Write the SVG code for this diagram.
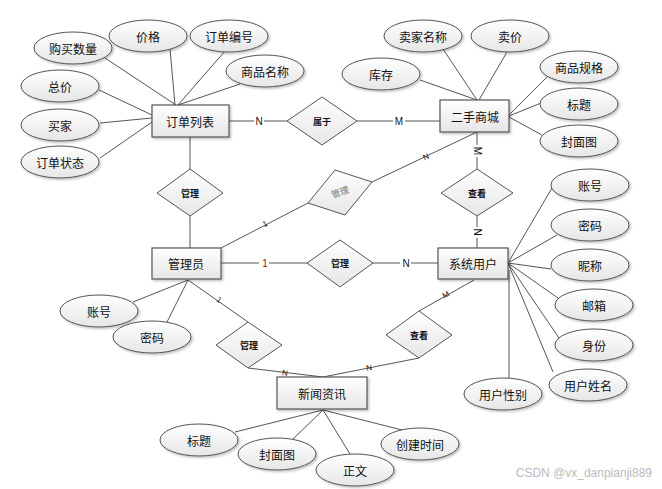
<svg xmlns="http://www.w3.org/2000/svg" width="662" height="489" viewBox="0 0 662 489">
<defs>
<linearGradient id="g" x1="0" y1="0" x2="0" y2="1">
<stop offset="0" stop-color="#ffffff"/>
<stop offset="1" stop-color="#e6e6e6"/>
</linearGradient>
<filter id="sh" x="-10%" y="-10%" width="130%" height="140%">
<feDropShadow dx="1.5" dy="1.5" stdDeviation="0.8" flood-color="#000" flood-opacity="0.25"/>
</filter>
</defs>
<style>
.e{fill:url(#g);stroke:#555;stroke-width:1;filter:url(#sh)}
.r{fill:url(#g);stroke:#555;stroke-width:1.2;filter:url(#sh)}
.d{fill:url(#g);stroke:#555;stroke-width:1}
.t{font-family:"Noto Sans CJK SC","Noto Sans",sans-serif;font-size:12px;fill:#111;text-anchor:middle;dominant-baseline:central}
.dt{font-family:"Noto Sans CJK SC","Noto Sans",sans-serif;font-size:9px;font-weight:bold;fill:#111;text-anchor:middle;dominant-baseline:central}
.l{stroke:#555;stroke-width:1;fill:none}
.lb{font-family:"Liberation Sans",sans-serif;font-size:10px;fill:#111;text-anchor:middle;dominant-baseline:central}
.sl{font-family:"Liberation Sans",sans-serif;font-size:8px;fill:#111;text-anchor:middle;dominant-baseline:central}
</style>
<rect width="662" height="489" fill="#fff"/>
<g id="connectors">
<line class="l" x1="105" y1="58" x2="176" y2="105"/>
<line class="l" x1="170" y1="49" x2="175" y2="105"/>
<line class="l" x1="225" y1="51" x2="178" y2="105"/>
<line class="l" x1="240" y1="84" x2="178" y2="105"/>
<line class="l" x1="99" y1="90" x2="152" y2="115"/>
<line class="l" x1="100" y1="123" x2="152" y2="118"/>
<line class="l" x1="100" y1="158" x2="152" y2="122"/>
<line class="l" x1="443" y1="49" x2="477" y2="100"/>
<line class="l" x1="507" y1="52" x2="479" y2="100"/>
<line class="l" x1="420" y1="80" x2="477" y2="100"/>
<line class="l" x1="547" y1="77" x2="509" y2="115"/>
<line class="l" x1="541" y1="103" x2="509" y2="116"/>
<line class="l" x1="542" y1="135" x2="509" y2="117" stroke="#222"/>
<line class="l" x1="552" y1="188" x2="508" y2="263"/>
<line class="l" x1="557" y1="235" x2="508" y2="263"/>
<line class="l" x1="551" y1="269" x2="508" y2="263"/>
<line class="l" x1="558" y1="298" x2="508" y2="263"/>
<line class="l" x1="559" y1="338" x2="508" y2="263"/>
<line class="l" x1="553" y1="372" x2="508" y2="263"/>
<line class="l" x1="509" y1="270" x2="509" y2="378"/>
<line class="l" x1="133" y1="302" x2="188" y2="280"/>
<line class="l" x1="167" y1="322" x2="188" y2="280"/>
<line class="l" x1="235" y1="432" x2="323" y2="410"/>
<line class="l" x1="293" y1="439" x2="323" y2="410"/>
<line class="l" x1="350" y1="454" x2="323" y2="410"/>
<line class="l" x1="402" y1="430" x2="323" y2="410"/>
<line class="l" x1="229" y1="121" x2="287" y2="121"/>
<line class="l" x1="357" y1="121" x2="440" y2="121"/>
<line class="l" x1="190" y1="137" x2="190" y2="169"/>
<line class="l" x1="190" y1="216" x2="190" y2="248"/>
<line class="l" x1="221" y1="248" x2="308" y2="203"/>
<line class="l" x1="372" y1="182" x2="477" y2="132"/>
<line class="l" x1="477" y1="132" x2="477" y2="169"/>
<line class="l" x1="477" y1="216" x2="477" y2="248"/>
<line class="l" x1="221" y1="263" x2="307" y2="263"/>
<line class="l" x1="373" y1="263" x2="438" y2="263"/>
<line class="l" x1="188" y1="280" x2="248" y2="322"/>
<line class="l" x1="248" y1="368" x2="323" y2="377"/>
<line class="l" x1="474" y1="280" x2="419" y2="311"/>
<line class="l" x1="419" y1="358" x2="323" y2="377"/>
<g>
<rect x="254" y="115" width="10" height="12" fill="#fff"/>
<text class="lb" x="259" y="121">N</text>
<rect x="393" y="115" width="12" height="12" fill="#fff"/>
<text class="lb" x="399" y="121">M</text>
<rect x="259" y="257" width="10" height="12" fill="#fff"/>
<text class="lb" x="265" y="263" fill="#c00000" style="fill:#c00000">1</text>
<rect x="400" y="257" width="11" height="12" fill="#fff"/>
<text class="lb" x="406" y="263">N</text>
<text class="sl" x="265" y="224" transform="rotate(-27 265 224)">1</text>
<text class="sl" x="426" y="157" transform="rotate(-25 426 157)">N</text>
<rect x="471" y="145" width="12" height="12" fill="#fff"/>
<text class="lb" x="477" y="151" transform="rotate(90 477 151)">M</text>
<rect x="471" y="227" width="12" height="11" fill="#fff"/>
<text class="lb" x="477" y="232" transform="rotate(90 477 232)">N</text>
<text class="sl" x="219" y="300" transform="rotate(35 219 300)">1</text>
<text class="sl" x="285" y="373" transform="rotate(7 285 373)">N</text>
<text class="sl" x="446" y="295" transform="rotate(-29 446 295)">M</text>
<text class="sl" x="369" y="368" transform="rotate(-11 369 368)">N</text>
</g>
</g>
<g id="n_dingdan"><rect class="r" x="152" y="105" width="77" height="32"/><text class="t" x="190" y="121">订单列表</text></g>
<g id="n_ershou"><rect class="r" x="440" y="100" width="69" height="32"/><text class="t" x="475" y="116">二手商城</text></g>
<g id="n_admin"><rect class="r" x="152" y="248" width="69" height="31"/><text class="t" x="186" y="263">管理员</text></g>
<g id="n_user"><rect class="r" x="438" y="248" width="70" height="31"/><text class="t" x="473" y="263">系统用户</text></g>
<g id="n_news"><rect class="r" x="277" y="377" width="90" height="32"/><text class="t" x="322" y="393">新闻资讯</text></g>
<g id="a_goumai"><ellipse class="e" cx="73" cy="48" rx="39" ry="16"/><text class="t" x="73" y="48">购买数量</text></g>
<g id="a_jiage"><ellipse class="e" cx="148" cy="36" rx="39" ry="16"/><text class="t" x="148" y="36">价格</text></g>
<g id="a_bianhao"><ellipse class="e" cx="229" cy="36" rx="39" ry="16"/><text class="t" x="229" y="36">订单编号</text></g>
<g id="a_spmc"><ellipse class="e" cx="265" cy="71" rx="39" ry="16"/><text class="t" x="265" y="71">商品名称</text></g>
<g id="a_zongjia"><ellipse class="e" cx="60" cy="86" rx="39" ry="16"/><text class="t" x="60" y="86">总价</text></g>
<g id="a_maijia"><ellipse class="e" cx="60" cy="125" rx="39" ry="16"/><text class="t" x="60" y="125">买家</text></g>
<g id="a_zhuangtai"><ellipse class="e" cx="60" cy="162" rx="39" ry="16"/><text class="t" x="60" y="162">订单状态</text></g>
<g id="a_mjmc"><ellipse class="e" cx="423" cy="36" rx="39" ry="16"/><text class="t" x="423" y="36">卖家名称</text></g>
<g id="a_maijia2"><ellipse class="e" cx="510" cy="36" rx="39" ry="16"/><text class="t" x="510" y="36">卖价</text></g>
<g id="a_kucun"><ellipse class="e" cx="381" cy="74" rx="39" ry="16"/><text class="t" x="381" y="74">库存</text></g>
<g id="a_guige"><ellipse class="e" cx="579" cy="67" rx="39" ry="16"/><text class="t" x="579" y="67">商品规格</text></g>
<g id="a_biaoti"><ellipse class="e" cx="579" cy="104" rx="39" ry="16"/><text class="t" x="579" y="104">标题</text></g>
<g id="a_fengmian"><ellipse class="e" cx="579" cy="141" rx="39" ry="16"/><text class="t" x="579" y="141">封面图</text></g>
<g id="a_u_zh"><ellipse class="e" cx="590" cy="185" rx="39" ry="16"/><text class="t" x="590" y="185">账号</text></g>
<g id="a_u_mm"><ellipse class="e" cx="590" cy="225" rx="39" ry="16"/><text class="t" x="590" y="225">密码</text></g>
<g id="a_u_nc"><ellipse class="e" cx="590" cy="265" rx="39" ry="16"/><text class="t" x="590" y="265">昵称</text></g>
<g id="a_u_yx"><ellipse class="e" cx="594" cy="305" rx="39" ry="16"/><text class="t" x="594" y="305">邮箱</text></g>
<g id="a_u_sf"><ellipse class="e" cx="594" cy="345" rx="39" ry="16"/><text class="t" x="594" y="345">身份</text></g>
<g id="a_u_xm"><ellipse class="e" cx="588" cy="385" rx="39" ry="16"/><text class="t" x="588" y="385">用户姓名</text></g>
<g id="a_u_xb"><ellipse class="e" cx="503" cy="394" rx="39" ry="16"/><text class="t" x="503" y="394">用户性别</text></g>
<g id="a_a_zh"><ellipse class="e" cx="99" cy="311" rx="39" ry="16"/><text class="t" x="99" y="311">账号</text></g>
<g id="a_a_mm"><ellipse class="e" cx="152" cy="337" rx="39" ry="16"/><text class="t" x="152" y="337">密码</text></g>
<g id="a_n_bt"><ellipse class="e" cx="199" cy="440" rx="39" ry="16"/><text class="t" x="199" y="440">标题</text></g>
<g id="a_n_fm"><ellipse class="e" cx="277" cy="454" rx="39" ry="16"/><text class="t" x="277" y="454">封面图</text></g>
<g id="a_n_zw"><ellipse class="e" cx="355" cy="470" rx="39" ry="16"/><text class="t" x="355" y="470">正文</text></g>
<g id="a_n_cj"><ellipse class="e" cx="420" cy="444" rx="39" ry="16"/><text class="t" x="420" y="444">创建时间</text></g>
<g id="r_shuyu"><polygon class="d" points="322,97 357,121 322,145 287,121"/><text class="dt" x="322" y="121">属于</text></g>
<g id="r_guanli1"><polygon class="d" points="190,169 223,193 190,216 157,193"/><text class="dt" x="190" y="193">管理</text></g>
<g id="r_guanli2"><polygon class="d" points="335,170 372,182 345,215 308,203"/><text class="dt" x="340" y="192" transform="rotate(-20 340 192)" style="fill:#777;font-weight:normal">管理</text></g>
<g id="r_chakan1"><polygon class="d" points="477,169 513,193 477,216 441,193"/><text class="dt" x="477" y="193">查看</text></g>
<g id="r_guanli3"><polygon class="d" points="340,240 373,263 340,287 307,263"/><text class="dt" x="340" y="263">管理</text></g>
<g id="r_guanli4"><polygon class="d" points="248,322 282,345 248,368 216,345"/><text class="dt" x="249" y="345">管理</text></g>
<g id="r_chakan2"><polygon class="d" points="419,311 452,335 419,358 386,335"/><text class="dt" x="419" y="335">查看</text></g>
<text x="652" y="477" style="font-family:'Liberation Sans',sans-serif;font-size:12px;fill:#bbb;text-anchor:end">CSDN @vx_danpianji889</text>
</svg>
